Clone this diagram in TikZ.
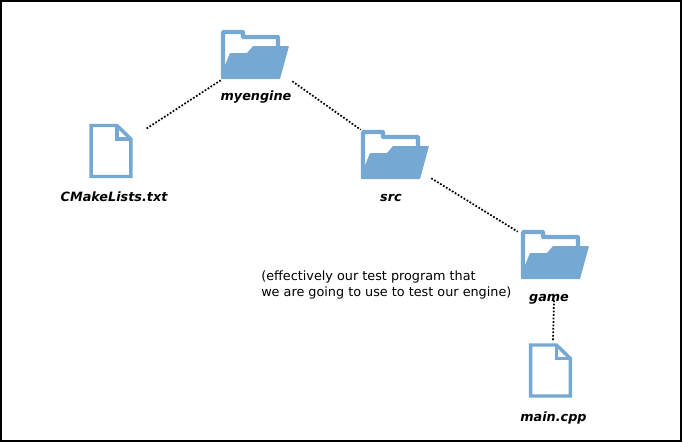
\documentclass[tikz,border=0pt]{standalone}
\usepackage{fontspec}
\setmainfont{DejaVu Sans}
\usepackage{xcolor}
\usetikzlibrary{positioning}
\definecolor{iconblue}{HTML}{75A9D3}

\begin{document}
\begin{tikzpicture}[
    x=0.75pt, y=-0.75pt,
    node distance=6pt,
    folderbox/.style={minimum width=51pt, minimum height=37.5pt, inner sep=0pt},
    filebox/.style={minimum width=31.5pt, minimum height=40.5pt, inner sep=0pt},
    itemname/.style={font=\fontsize{9.6pt}{11pt}\selectfont\bfseries\itshape, inner sep=0pt},
    link/.style={line width=1.3pt, dash pattern=on 1.3pt off 1.3pt},
    folder/.pic={
        \draw[iconblue, line width=3.2pt, line join=miter, rounded corners=0.5pt, fill=white]
            (-32,21) -- (-32,-22.9) -- (-12,-22.9) -- (-12,-17.9) -- (23,-17.9) -- (23,-5) -- cycle;
        \fill[iconblue, rounded corners=0.5pt]
            (-34,24) -- (-34,20) -- (-25,-2) -- (-8,-2) -- (-2,-9) -- (34,-9) -- (25,24) -- cycle;
    },
    document/.pic={
        \draw[iconblue, line width=2.6pt, line join=miter, fill=white]
            (-19.8,-25.5) -- (6,-25.5) -- (19.8,-12) -- (19.8,25.5) -- (-19.8,25.5) -- cycle;
        \draw[iconblue, line width=2.6pt, line join=miter]
            (6,-25.5) -- (6,-12) -- (19.8,-12);
    }
]
\useasboundingbox (0,0) rectangle (683,443);
\draw[line width=1.5pt] (1,1) rectangle (681,441);

\node[folderbox] (myengine) at (255,55) {};
\node[filebox] (cmake) at (111,151) {};
\node[folderbox] (src) at (395,155) {};
\node[folderbox] (game) at (555,255) {};
\node[filebox] (maincpp) at (550.5,370.5) {};

\pic at (myengine) {folder};
\pic at (cmake) {document};
\pic at (src) {folder};
\pic at (game) {folder};
\pic at (maincpp) {document};

\node[itemname, below=8pt of myengine, xshift=0.75pt] (myenginename) {myengine};
\node[itemname, below=10pt of cmake, xshift=2.25pt] (cmakename) {CMakeLists.txt};
\node[itemname, below=10.5pt of src, xshift=-3pt] (srcname) {src};
\node[itemname, below=10.5pt of game, xshift=-4.5pt] (gamename) {game};
\node[itemname, below=10.5pt of maincpp, xshift=2.25pt] (maincppname) {main.cpp};

\node[align=left, inner sep=0pt, font=\fontsize{9.6pt}{12pt}\selectfont, anchor=west] (note) at (261,284.5)
    {(effectively our test program that\\we are going to use to test our engine)};

\draw[link] (myengine.south west) -- ([shift={(14,5)}]cmake.north east);
\draw[link] ([shift={(3,1)}]myengine.south east) -- (src.north west);
\draw[link] ([shift={(2,-2)}]src.south east) -- ([shift={(-3,2)}]game.north west);
\draw[link] ([shift={(-1,20)}]game.south) -- ([shift={(2.5,-3)}]maincpp.north);

\end{tikzpicture}
\end{document}
